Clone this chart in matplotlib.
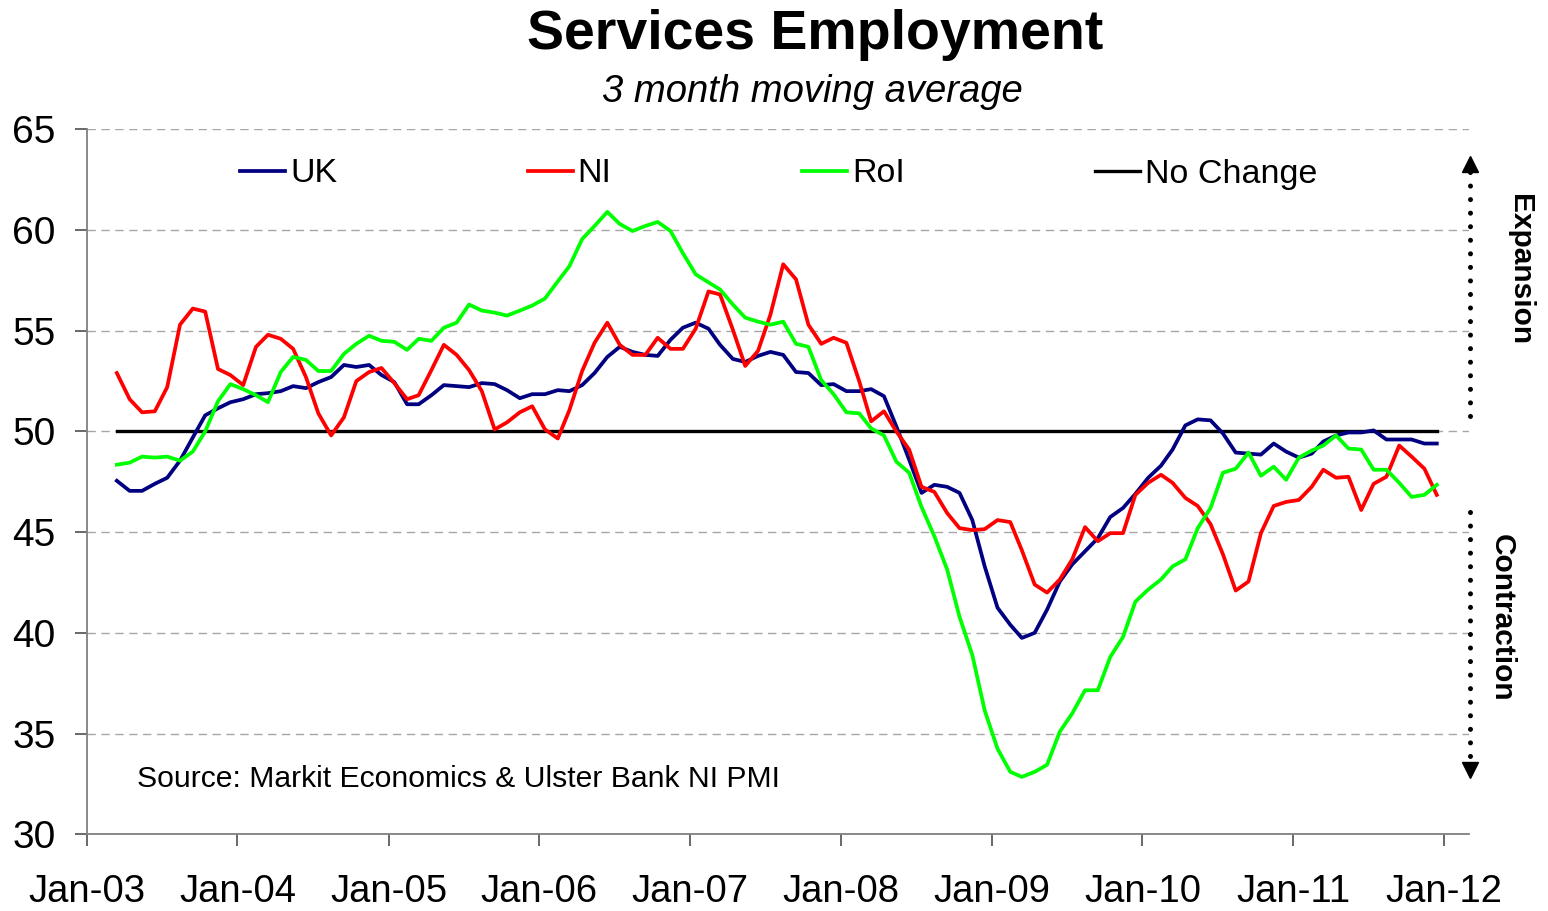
import matplotlib
matplotlib.use("Agg")
import matplotlib.pyplot as plt
import matplotlib.dates as mdates
from matplotlib.lines import Line2D
import pandas as pd

plt.rcParams["font.family"] = ["Liberation Sans", "DejaVu Sans"]

#### Data: 3 month moving averages, Mar-03 to Dec-11 ####
months = pd.date_range("2003-03-01", "2011-12-01", freq="MS") + pd.Timedelta(days=14)

uk = [47.55, 47.05, 47.05, 47.4, 47.7, 48.55, 49.7, 50.8, 51.15, 51.45,
      51.6, 51.85, 51.9, 52.0, 52.25, 52.15, 52.45, 52.7, 53.3, 53.2,
      53.3, 52.8, 52.45, 51.35, 51.35, 51.8, 52.3, 52.25, 52.2, 52.4,
      52.35, 52.05, 51.65, 51.85, 51.85, 52.05, 52.0, 52.3, 52.9, 53.7,
      54.2, 53.95, 53.8, 53.75, 54.55, 55.15, 55.4, 55.1, 54.3, 53.6,
      53.45, 53.75, 53.95, 53.8, 52.95, 52.9, 52.3, 52.35, 52.0, 52.0,
      52.1, 51.75, 50.25, 48.6, 46.95, 47.35, 47.25, 46.95, 45.6, 43.3,
      41.25, 40.4, 39.75, 40.0, 41.15, 42.55, 43.4, 44.05, 44.7, 45.75,
      46.2, 46.9, 47.7, 48.3, 49.1, 50.3, 50.6, 50.55, 49.9, 48.95,
      48.9, 48.85, 49.4, 49.0, 48.7, 48.9, 49.5, 49.8, 49.95, 49.95,
      50.05, 49.6, 49.6, 49.6, 49.4, 49.4]

ni = [52.9, 51.6, 50.95, 51.0, 52.2, 55.3, 56.1, 55.95, 53.1, 52.8,
      52.3, 54.2, 54.8, 54.6, 54.1, 52.7, 50.9, 49.8, 50.7, 52.5,
      52.95, 53.15, 52.4, 51.6, 51.8, 53.05, 54.3, 53.8, 53.05, 52.0,
      50.1, 50.45, 50.95, 51.25, 50.1, 49.65, 51.05, 53.0, 54.4, 55.4,
      54.3, 53.8, 53.8, 54.65, 54.1, 54.1, 55.1, 56.95, 56.8, 55.05,
      53.25, 54.0, 55.8, 58.3, 57.55, 55.3, 54.35, 54.65, 54.4, 52.5,
      50.5, 51.0, 50.0, 49.1, 47.25, 47.0, 45.95, 45.2, 45.1, 45.15,
      45.6, 45.5, 44.1, 42.4, 42.0, 42.65, 43.65, 45.25, 44.55, 44.95,
      44.95, 46.85, 47.45, 47.85, 47.45, 46.7, 46.3, 45.4, 43.9, 42.1,
      42.55, 44.95, 46.3, 46.5, 46.6, 47.25, 48.1, 47.7, 47.75, 46.1,
      47.4, 47.75, 49.3, 48.75, 48.15, 46.85]

roi = [48.35, 48.45, 48.75, 48.7, 48.75, 48.55, 49.0, 50.0, 51.5, 52.35,
       52.1, 51.8, 51.45, 52.95, 53.7, 53.55, 53.0, 53.0, 53.85, 54.35,
       54.75, 54.5, 54.45, 54.05, 54.6, 54.5, 55.15, 55.4, 56.3, 56.0,
       55.9, 55.75, 56.0, 56.25, 56.6, 57.45, 58.2, 59.55, 60.2, 60.9,
       60.3, 59.95, 60.2, 60.4, 59.95, 58.85, 57.8, 57.4, 57.05, 56.3,
       55.65, 55.45, 55.3, 55.45, 54.35, 54.2, 52.55, 51.85, 50.95, 50.9,
       50.15, 49.8, 48.5, 47.95, 46.25, 44.8, 43.15, 40.8, 38.9, 36.15,
       34.25, 33.1, 32.85, 33.1, 33.45, 35.1, 36.0, 37.15, 37.15, 38.8,
       39.8, 41.55, 42.15, 42.65, 43.3, 43.65, 45.2, 46.2, 47.95, 48.15,
       48.95, 47.8, 48.25, 47.6, 48.7, 49.05, 49.3, 49.8, 49.15, 49.1,
       48.1, 48.1, 47.45, 46.75, 46.85, 47.35]

no_change = [50] * len(months)

year_ticks = pd.date_range("2003-01-01", "2012-01-01", freq="YS")
y_ticks = [30, 35, 40, 45, 50, 55, 60, 65]

W, H = 1548, 911


def fx(x):
    return x / W


def fy(y):
    return 1 - y / H


#### Figure & axes ####
fig = plt.figure(figsize=(W / 100, H / 100), dpi=100)
ax = fig.add_axes([fx(86.7), fy(834.3), fx(1469) - fx(86.7), fy(129.3) - fy(834.3)])

ax.plot(months, uk, color="#000080", lw=2.7, label="UK", zorder=4)
ax.plot(months, ni, color="#ff0000", lw=2.7, label="NI", zorder=4)
ax.plot(months, roi, color="#00ff00", lw=2.7, label="RoI", zorder=4)
ax.plot(months, no_change, color="black", lw=2.4, label="No Change", zorder=3)

ax.set_ylim(30, 65)
ax.set_yticks(y_ticks)
ax.set_xlim(pd.Timestamp("2003-01-01"), pd.Timestamp("2012-03-02"))
ax.set_xticks(year_ticks)
ax.xaxis.set_major_formatter(mdates.DateFormatter("%b-%y"))

ax.grid(axis="y", color="#a6a6a6", lw=1.0, linestyle=(0, (6, 4)))
ax.set_axisbelow(True)
for side in ("top", "right"):
    ax.spines[side].set_visible(False)
for side in ("left", "bottom"):
    ax.spines[side].set_color("#808080")
    ax.spines[side].set_linewidth(1.3)
ax.tick_params(axis="both", length=8.6, width=1.1, color="#404040")
ax.tick_params(axis="x", pad=20, labelsize=27.5)
ax.tick_params(axis="y", pad=14, labelsize=28)

# legend across the top of the plot
ax.legend(loc="center left", bbox_to_anchor=(fx(240), fy(174)), bbox_transform=fig.transFigure,
          ncol=4, frameon=False, fontsize=24.5, handlelength=1.32, handletextpad=0.15,
          columnspacing=5.6, borderpad=0, borderaxespad=0)

# titles
fig.text(fx(815), fy(35), "Services Employment", ha="center", va="center",
         fontsize=40, fontweight="bold")
fig.text(fx(812), fy(92), "3 month moving average", ha="center", va="center",
         fontsize=27.5, fontstyle="italic")
fig.text(fx(137), fy(779), "Source: Markit Economics & Ulster Bank NI PMI", ha="left",
         va="center", fontsize=21.7)

# expansion / contraction markers on the right
for y0, y1 in [(172, 421), (512, 762)]:
    fig.add_artist(Line2D([fx(1470), fx(1470)], [fy(y0), fy(y1)], transform=fig.transFigure,
                          color="black", lw=3.6, linestyle=(0, (0.01, 2.7)),
                          dash_capstyle="round"))
fig.add_artist(Line2D([fx(1470)], [fy(164)], transform=fig.transFigure, marker="^",
                      markersize=12, color="black", lw=0))
fig.add_artist(Line2D([fx(1470)], [fy(770)], transform=fig.transFigure, marker="v",
                      markersize=12, color="black", lw=0))
fig.text(fx(1520), fy(270), "Expansion", rotation=270, ha="center", va="center",
         fontsize=21.5, fontweight="bold")
fig.text(fx(1502), fy(618), "Contraction", rotation=270, ha="center", va="center",
         fontsize=21.5, fontweight="bold")

fig.savefig("out.png", dpi=100)
